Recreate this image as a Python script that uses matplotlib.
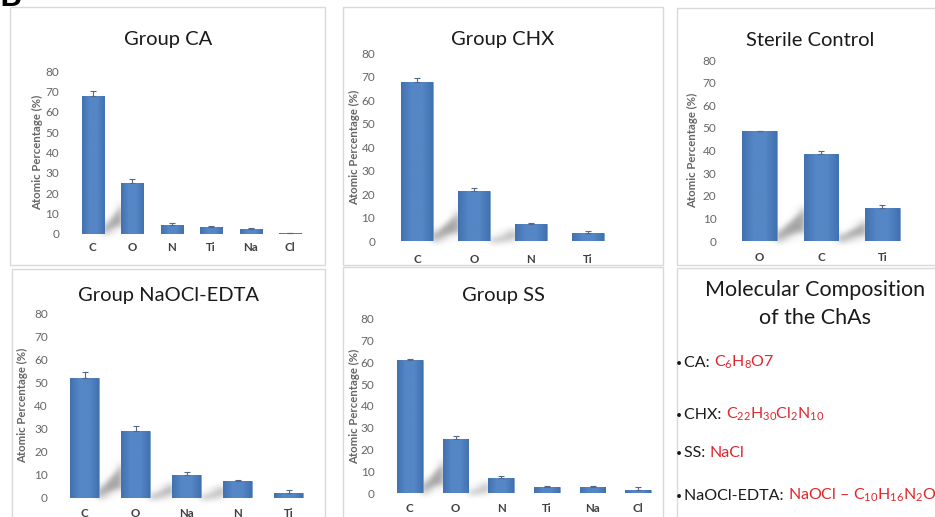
import matplotlib

matplotlib.use("Agg")
import matplotlib.pyplot as plt
import numpy as np
from matplotlib.colors import LinearSegmentedColormap
from matplotlib.patches import Polygon, Rectangle

W, H = 935, 517

plt.rcParams["font.family"] = ["Lato", "DejaVu Sans"]
plt.rcParams["mathtext.fontset"] = "custom"
plt.rcParams["mathtext.rm"] = "Lato"
plt.rcParams["mathtext.it"] = "Lato:italic"
plt.rcParams["mathtext.bf"] = "Lato:bold"

# ---- data (atomic %, mean and upper error) ----
ca_elements = ["C", "O", "N", "Ti", "Na", "Cl"]
ca_values = [67.5, 25.0, 4.6, 3.3, 2.4, 0.4]
ca_errors = [2.6, 1.8, 0.6, 0.7, 0.5, 0.2]

chx_elements = ["C", "O", "N", "Ti"]
chx_values = [67.6, 21.3, 7.2, 3.4]
chx_errors = [1.9, 1.4, 0.4, 0.8]

sterile_elements = ["O", "C", "Ti"]
sterile_values = [48.6, 38.5, 14.8]
sterile_errors = [0.2, 1.1, 1.1]

naocl_elements = ["C", "O", "Na", "N", "Ti"]
naocl_values = [52.0, 29.0, 9.8, 7.5, 2.3]
naocl_errors = [2.3, 2.0, 1.5, 0.5, 1.0]

ss_elements = ["C", "O", "N", "Ti", "Na", "Cl"]
ss_values = [61.0, 24.9, 6.9, 2.7, 2.7, 1.6]
ss_errors = [0.5, 1.3, 0.7, 0.5, 0.6, 1.0]

agent_names = ["CA: ", "CHX: ", "SS: ", "NaOCl-EDTA: "]
agent_formulas = [
    r"$\mathregular{C_6H_8O7}$",
    r"$\mathregular{C_{22}H_{30}Cl_2N_{10}}$",
    "NaCl",
    r"$\mathregular{NaOCl\ –\ C_{10}H_{16}N_2O_8}$",
]

y_ticks = [0, 10, 20, 30, 40, 50, 60, 70, 80]

# ---- layout in pixels ----
# frame (x0, y0, x1, y1), axes (left, right, top, bottom), title xy, ylabel x, ytick pad, xtick pad
PANELS = [
    ("Group CA", ca_elements, ca_values, ca_errors,
     (10, 7, 325, 265), (73, 310, 71, 234), (168, 40), 38, 10, 6),
    ("Group CHX", chx_elements, chx_values, chx_errors,
     (343, 7, 663, 265), (389, 616, 53, 241), (503, 40), 355, 10, 9),
    ("Sterile Control", sterile_elements, sterile_values, sterile_errors,
     (677, 8, 945, 265), (729, 913, 60, 241), (810, 40), 693, 9, 8),
    ("Group NaOCl-EDTA", naocl_elements, naocl_values, naocl_errors,
     (12, 269, 325, 530), (59, 314, 313, 498), (168, 295), 23, 8, 7),
    ("Group SS", ss_elements, ss_values, ss_errors,
     (343, 267, 663, 530), (387, 661, 319, 493), (503, 295), 355, 9, 7),
]
MOL_FRAME = (677, 268, 945, 530)

BAR_EDGE = "#4271B0"
BAR_MID = "#5586C5"
ERR_COLOR = "#52698A"
TICK_GREY = "#666666"
FRAME_GREY = "#D9D9D9"
RED = "#E3262B"

bar_cmap = LinearSegmentedColormap.from_list("bar", [BAR_EDGE, BAR_MID, BAR_MID, BAR_EDGE])


def fx(px):
    return px / W


def fy(py):
    return 1 - py / H


class Blur:
    def __init__(self, sigma):
        self.sigma = sigma

    def __call__(self, im, dpi):
        s = self.sigma * dpi / 72.0
        r = int(3 * s) + 1
        k = np.exp(-0.5 * (np.arange(-r, r + 1) / s) ** 2)
        k /= k.sum()
        src = np.pad(im, [(r, r), (r, r), (0, 0)], "constant")
        tmp = np.zeros_like(src)
        for i, w in enumerate(k):
            tmp += w * np.roll(src, i - r, axis=0)
        out = np.zeros_like(src)
        for i, w in enumerate(k):
            out += w * np.roll(tmp, i - r, axis=1)
        return out, -r, -r


def add_frame(fig, box):
    x0, y0, x1, y1 = box
    fig.patches.append(Rectangle((fx(x0), fy(y1)), fx(x1 - x0), (y1 - y0) / H,
                                 transform=fig.transFigure, fill=False,
                                 edgecolor=FRAME_GREY, linewidth=1.0, zorder=0))


def draw_panel(fig, title, elements, values, errors, frame, rect, title_xy, ylab_x, ypad, xpad):
    add_frame(fig, frame)
    left, right, top, bottom = rect
    ax = fig.add_axes([fx(left), fy(bottom), fx(right - left), (bottom - top) / H])
    ax.set_facecolor("none")
    x = np.arange(len(elements))
    width = 0.56

    # soft diagonal shadows between neighbouring bars
    for i in range(len(values) - 1):
        if values[i] < 5 or values[i + 1] < 5:
            continue
        h = min(values[i + 1] * 0.6, 15)
        r0 = x[i] + width / 2
        l1 = x[i + 1] - width / 2
        shadow = Polygon([(r0, 0), (r0, h * 0.25), (l1, h), (l1, h * 0.25)],
                         closed=True, facecolor="#666666", edgecolor="none",
                         alpha=0.6, zorder=1)
        shadow.set_agg_filter(Blur(2.5))
        ax.add_patch(shadow)

    bars = ax.bar(x, values, width=width, color=BAR_EDGE, edgecolor="#6F98CF",
                  linewidth=0.4, zorder=2)
    grad = np.linspace(0, 1, 64).reshape(1, -1)
    for b in bars:
        if b.get_height() <= 0:
            continue
        im = ax.imshow(grad, extent=[b.get_x(), b.get_x() + b.get_width(), 0, b.get_height()],
                       aspect="auto", cmap=bar_cmap, zorder=2.5, interpolation="bilinear")
        im.set_clip_path(b)

    ax.errorbar(x, values, yerr=[np.zeros(len(errors)), errors], fmt="none",
                ecolor=ERR_COLOR, elinewidth=0.8, capsize=2.5, capthick=0.8, zorder=3)

    ax.set_xlim(-0.5, len(elements) - 0.5)
    ax.set_ylim(0, 80)
    ax.set_yticks(y_ticks)
    ax.set_xticks(x)
    ax.set_xticklabels(elements, fontsize=8.3, fontweight="bold", color="#404040")
    ax.tick_params(axis="y", length=0, pad=ypad, labelsize=8.5, labelcolor=TICK_GREY)
    ax.tick_params(axis="x", length=0, pad=xpad)
    for s in ax.spines.values():
        s.set_visible(False)

    fig.text(fx(title_xy[0]), fy(title_xy[1]), title, ha="center", va="center",
             fontsize=14.5, color="#1a1a1a")
    fig.text(fx(ylab_x), fy((top + bottom) / 2), "Atomic Percentage (%)", rotation=90,
             ha="center", va="center", fontsize=8.2, fontweight="bold", color=TICK_GREY)


def draw_composition(fig):
    add_frame(fig, MOL_FRAME)
    fig.text(fx(815), fy(290), "Molecular Composition", ha="center", va="center",
             fontsize=15.5, color="#1a1a1a")
    fig.text(fx(815), fy(318), "of the ChAs", ha="center", va="center",
             fontsize=15.5, color="#1a1a1a")
    baselines = [367, 419, 457, 500]
    names = []
    for name, yb in zip(agent_names, baselines):
        fig.text(fx(676), fy(yb - 1), "•", ha="left", va="baseline", fontsize=7.5, color="#1a1a1a")
        names.append(fig.text(fx(684), fy(yb), name, ha="left", va="baseline",
                              fontsize=11.5, color="#1a1a1a"))
    fig.canvas.draw()
    renderer = fig.canvas.get_renderer()
    for t, formula, yb in zip(names, agent_formulas, baselines):
        x1 = t.get_window_extent(renderer).x1
        fig.text(x1 / W, fy(yb), formula, ha="left", va="baseline", fontsize=11.5, color=RED)


def main():
    fig = plt.figure(figsize=(W / 100, H / 100), dpi=100)
    fig.patch.set_facecolor("white")
    for panel in PANELS:
        draw_panel(fig, *panel)
    fig.text(fx(-1), fy(6), "B", ha="left", va="baseline", fontsize=24,
             fontweight="bold", color="black")
    draw_composition(fig)
    fig.savefig("out.png", dpi=100)
    plt.close(fig)


if __name__ == "__main__":
    main()
